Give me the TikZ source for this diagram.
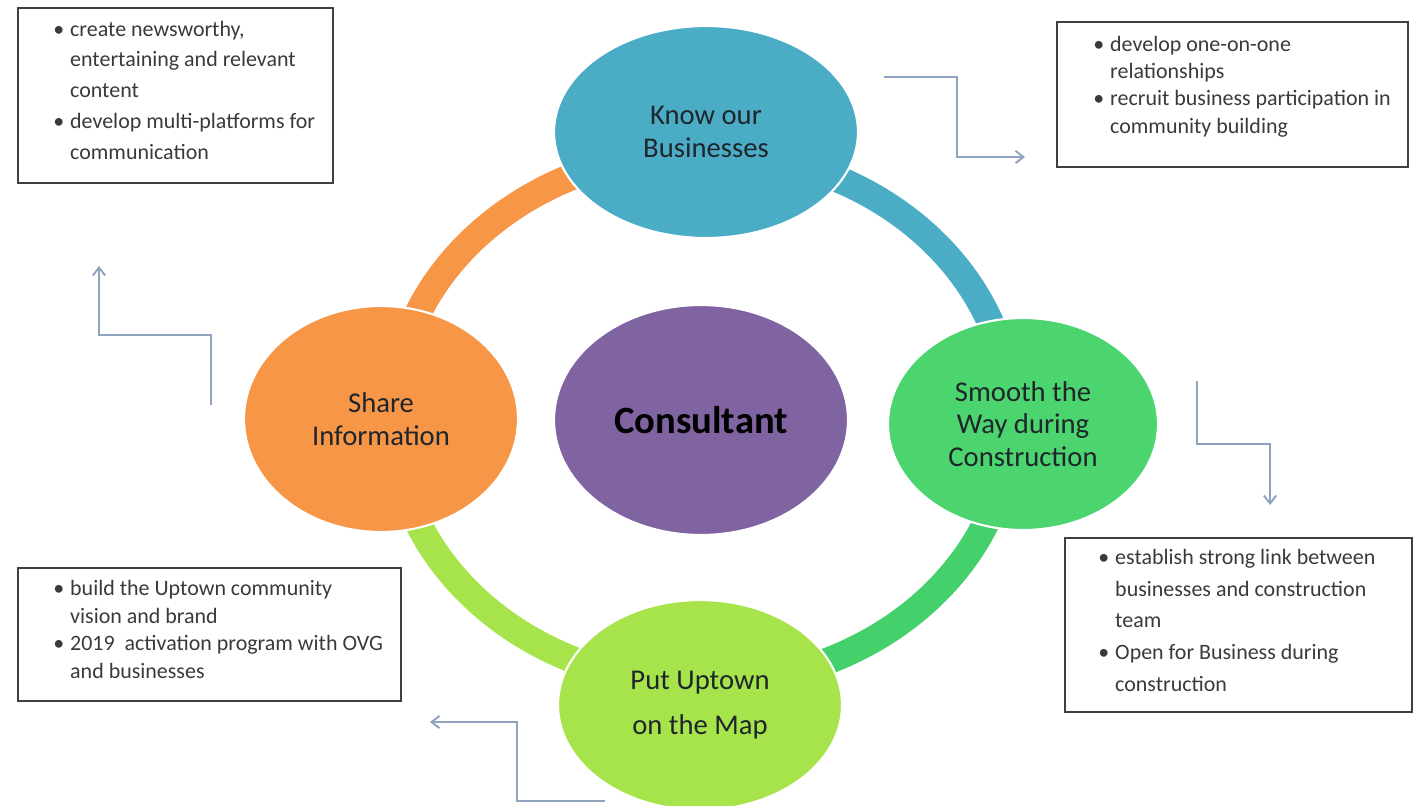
\documentclass[tikz,border=0pt]{standalone}
\usepackage{fontspec}
\setmainfont{Carlito}
\usetikzlibrary{shapes.geometric,arrows.meta}

\definecolor{cblue}{HTML}{4BACC6}
\definecolor{corange}{HTML}{F79646}
\definecolor{cpurple}{HTML}{8064A2}
\definecolor{cgreen}{HTML}{4CD46F}
\definecolor{cgreenring}{HTML}{44D06A}
\definecolor{clime}{HTML}{A7E44B}
\definecolor{carrow}{HTML}{8FA3BF}
\definecolor{cboxtext}{HTML}{3A3A3A}
\definecolor{clabel}{HTML}{1E262C}

\newcommand{\bl}{\makebox[9.6pt][l]{\textbullet}}

\tikzset{
  ringarc/.style={line width=15.3pt},
  bubble/.style={ellipse, draw=white, line width=1.2pt, inner sep=0pt,
    text=clabel, align=center, font=\fontsize{16.3}{18.5}\selectfont},
  notebox/.style={draw=black!75, line width=0.7pt, rectangle},
  notetext/.style={anchor=north west, inner sep=0pt, text=cboxtext},
  flow/.style={draw=carrow, line width=1.1pt,
    -{Straight Barb[length=4.5pt,width=7pt]}},
}

\begin{document}
\begin{tikzpicture}[x=0.02cm, y=-0.02cm]
\useasboundingbox (0,0) rectangle (1425,805);

% ring behind the bubbles, one quarter per colour
\coordinate (ringtop) at (702,152);
\coordinate (ringleft) at (393,418);
\coordinate (ringright) at (1011,418);
\draw[ringarc, corange] (ringtop) arc[start angle=90, end angle=180, x radius=6.18cm, y radius=5.32cm];
\draw[ringarc, cblue] (ringtop) arc[start angle=90, end angle=0, x radius=6.18cm, y radius=5.32cm];
\draw[ringarc, cgreenring] (ringright) arc[start angle=0, end angle=-90, x radius=6.18cm, y radius=5.32cm];
\draw[ringarc, clime] (ringleft) arc[start angle=180, end angle=270, x radius=6.18cm, y radius=5.32cm];

% bubbles
\node[bubble, fill=cblue, minimum width=6.08cm, minimum height=4.24cm] (know) at (706,132) {Know our\\Businesses};
\node[bubble, fill=corange, minimum width=5.48cm, minimum height=4.52cm] (share) at (381,419) {\raisebox{-2pt}{Share}\\\raisebox{-2pt}{Information}};
\node[bubble, fill=cpurple, minimum width=5.88cm, minimum height=4.6cm, text=black,
  font=\fontsize{22}{26}\selectfont\bfseries] (cons) at (701,420) {Consultant};
\node[bubble, fill=cgreen, minimum width=5.4cm, minimum height=4.24cm] (smooth) at (1023,424)
  {Smooth the\\Way during\\Construction};
\node[bubble, fill=clime, minimum width=5.68cm, minimum height=4.2cm] (put) at (700,705)
  {\raisebox{-3pt}{Put Uptown}\\[7pt]\raisebox{-3pt}{on the Map}};

% note boxes
\node[notebox, minimum width=6.3cm, minimum height=3.5cm] (tlbox) at (175.5,95.5) {};
\node[notetext, font=\fontsize{12.5}{17.6}\selectfont] (tltext) at (53,14) {%
  \begin{tabular}{@{}l@{}l@{}}
  \bl & create newsworthy,\\
      & entertaining and relevant\\
      & content\\
  \bl & develop multi-platforms for\\
      & communication
  \end{tabular}};

\node[notebox, minimum width=7.02cm, minimum height=2.9cm] (trbox) at (1232.5,94.5) {};
\node[notetext, font=\fontsize{12.5}{15.5}\selectfont] (trtext) at (1093,32) {%
  \begin{tabular}{@{}l@{}l@{}}
  \bl & develop one-on-one\\
      & relationships\\
  \bl & recruit business participation in\\
      & community building
  \end{tabular}};

\node[notebox, minimum width=6.94cm, minimum height=3.48cm] (brbox) at (1238.5,625) {};
\node[notetext, font=\fontsize{12.5}{18}\selectfont] (brtext) at (1098,542) {%
  \begin{tabular}{@{}l@{}l@{}}
  \bl & establish strong link between\\
      & businesses and construction\\
      & team\\
  \bl & Open for Business during\\
      & construction
  \end{tabular}};

\node[notebox, minimum width=7.66cm, minimum height=2.66cm] (blbox) at (209.5,634.5) {};
\node[notetext, font=\fontsize{12.5}{15.7}\selectfont] (bltext) at (53,576) {%
  \begin{tabular}{@{}l@{}l@{}}
  \bl & build the Uptown community\\
      & vision and brand\\
  \bl & 2019\ \ activation program with OVG\\
      & and businesses
  \end{tabular}};

% stepped flow arrows
\coordinate (f1s) at (884,77);
\coordinate (f1e) at (1025,157);
\draw[flow] (f1s) -| (957,117) |- (f1e);

\coordinate (f2s) at (1197,381);
\coordinate (f2e) at (1270,505);
\draw[flow] (f2s) |- (1233,444) -| (f2e);

\coordinate (f3s) at (605,801);
\coordinate (f3e) at (430,722);
\draw[flow] (f3s) -| (517,760) |- (f3e);

\coordinate (f4s) at (211,405);
\coordinate (f4e) at (99,266);
\draw[flow] (f4s) |- (155,335) -| (f4e);
\end{tikzpicture}
\end{document}
